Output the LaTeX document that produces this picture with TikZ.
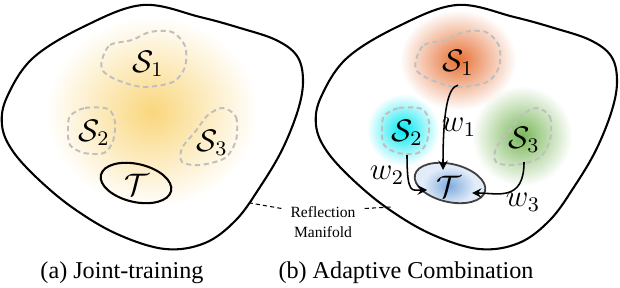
\documentclass[tikz,border=0pt]{standalone}
\usepackage[no-math]{fontspec}
\setmainfont{Liberation Serif}
\usepackage{amsmath}
\usepackage{amssymb}
\usetikzlibrary{arrows}
\usetikzlibrary{fadings}

\definecolor{glowyellow}{RGB}{249,210,110}
\definecolor{gloworange}{RGB}{230,112,52}
\definecolor{glowcyan}{RGB}{0,232,242}
\definecolor{glowgreen}{RGB}{120,182,88}
\definecolor{glowblue}{RGB}{110,160,218}
\definecolor{paleblue}{RGB}{226,236,248}
\tikzfading[name=glow, inner color=transparent!0, outer color=transparent!100]

\begin{document}
\begin{tikzpicture}[x=0.385pt,y=-0.385pt,
    manifold/.style={line width=0.8pt},
    sourceline/.style={gray!50, line width=0.75pt, dash pattern=on 2pt off 1.4pt},
    domlabel/.style={font=\fontsize{12}{14}\selectfont},
    caption/.style={font=\fontsize{9.3}{11}\selectfont},
    wire/.style={->, >=stealth, line width=0.6pt},
    leader/.style={line width=0.4pt, dash pattern=on 1.6pt off 1.2pt}]
    \useasboundingbox (0,0) rectangle (620,288);

    % soft colour clouds
    \fill[glowyellow, path fading=glow, opacity=0.9] (152,112) ellipse [x radius=105, y radius=95];
    \fill[gloworange, path fading=glow] (458,60) ellipse [x radius=58, y radius=50];
    \fill[glowcyan, path fading=glow] (403,130) circle (36);
    \fill[glowgreen, path fading=glow] (522,136) circle (50);

    % manifold and source domains, same in both panels
    \foreach \dx in {0,314}{
        \begin{scope}[shift={(\dx,0)}]
            \draw[manifold] plot[smooth cycle, tension=0.6] coordinates {(143,5) (200,17) (240,28) (276,40) (297,56) (303,80) (298,110) (282,150) (260,187) (236,220) (205,243) (165,249) (117,234) (73,208) (37,178) (12,150) (2,125) (7,97) (33,58) (85,26)};
            \draw[sourceline] plot[smooth cycle] coordinates {(102,60) (110,45) (132,40) (150,32) (172,32) (185,46) (185,67) (173,82) (143,87) (117,80) (103,71)};
            \draw[sourceline] plot[smooth cycle] coordinates {(70,116) (85,108) (108,109) (115,122) (113,141) (104,153) (84,153) (70,145) (68,130)};
            \draw[sourceline] plot[smooth cycle] coordinates {(223,108) (236,117) (236,140) (225,158) (200,165) (182,162) (182,148) (195,132) (208,115)};
        \end{scope}
    }

    % target domain
    \draw[manifold, rotate around={-13:(136,183)}] (136,183) ellipse [x radius=36, y radius=19];
    \begin{scope}
        \clip[rotate around={-13:(450,183)}] (450,183) ellipse [x radius=36, y radius=19];
        \fill[paleblue] (400,150) rectangle (500,220);
        \fill[glowblue, path fading=glow, opacity=0.85] (449,186) ellipse [x radius=26, y radius=19];
    \end{scope}
    \draw[black!75, line width=0.7pt, rotate around={-13:(450,183)}] (450,183) ellipse [x radius=36, y radius=19];

    % labels
    \node[domlabel] (s1a) at (148,64) {$\mathcal{S}_1$};
    \node[domlabel] (s2a) at (94,133) {$\mathcal{S}_2$};
    \node[domlabel] (s3a) at (212,143) {$\mathcal{S}_3$};
    \node[domlabel] (ta) at (137,185) {$\mathcal{T}$};
    \node[domlabel] (s1b) at (458,63) {$\mathcal{S}_1$};
    \node[domlabel] (s2b) at (407,133) {$\mathcal{S}_2$};
    \node[domlabel] (s3b) at (524,140) {$\mathcal{S}_3$};
    \node[domlabel] (tb) at (449,187) {$\mathcal{T}$};

    % weights
    \coordinate (e1) at (443,170);
    \coordinate (e2) at (427,190);
    \coordinate (e3) at (472,193);
    \draw[wire] (s1b.south) .. controls +(-10,2) and +(0,-60) .. (e1);
    \draw[wire] (s2b.south) .. controls +(0,40) and +(-15,0) .. (e2);
    \draw[wire] (s3b.south) .. controls +(0,40) and +(25,0) .. (e3);
    \node[domlabel] (w1) at (459,127) {$w_1$};
    \node[domlabel] (w2) at (387,175) {$w_2$};
    \node[domlabel] (w3) at (523,202) {$w_3$};

    % manifold label
    \node[align=center, font=\fontsize{6}{7.5}\selectfont] (rm) at (323,222) {Reflection\\Manifold};
    \coordinate (ml) at (250,203);
    \coordinate (mr) at (392,207);
    \draw[leader] (rm.162) -- (ml);
    \draw[leader] (rm.18) -- (mr);

    % captions
    \node[caption] (capa) at (122,273) {(a) Joint-training};
    \node[caption] (capb) at (406,273) {(b) Adaptive Combination};
\end{tikzpicture}
\end{document}
